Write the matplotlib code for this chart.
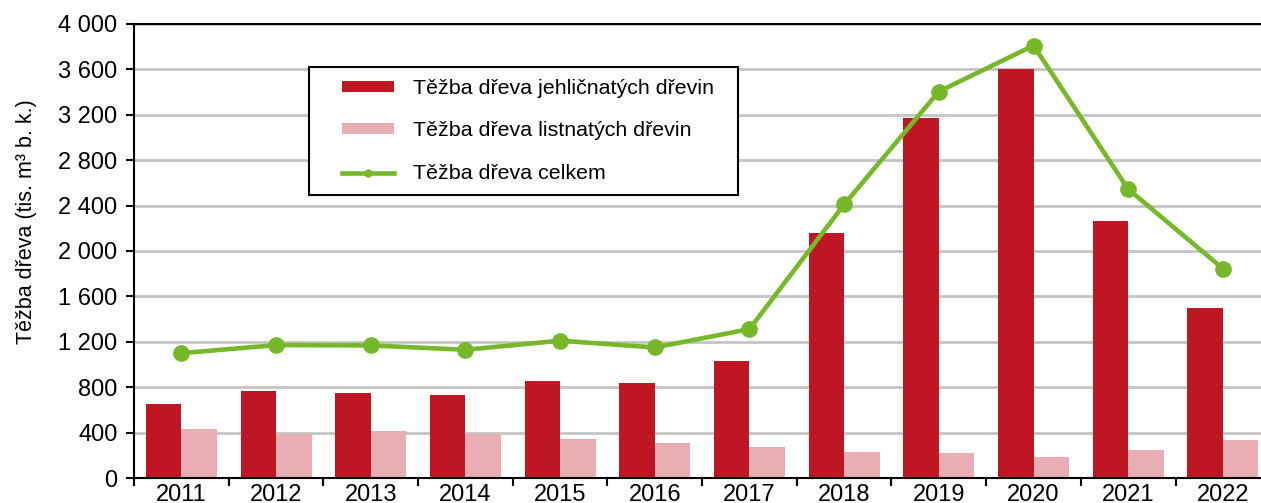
import numpy as np
import matplotlib.pyplot as plt
from matplotlib.patches import Rectangle
from matplotlib.ticker import FuncFormatter

plt.rcParams['font.family'] = ['Liberation Sans', 'DejaVu Sans']

years = ['2011', '2012', '2013', '2014', '2015', '2016',
         '2017', '2018', '2019', '2020', '2021', '2022']
jehlicnate = [649, 770, 753, 735, 856, 841, 1031, 2162, 3173, 3600, 2268, 1494]
listnate = [430, 392, 412, 391, 341, 308, 271, 233, 218, 183, 250, 339]
celkem = [1100, 1171, 1168, 1130, 1210, 1150, 1312, 2410, 3405, 3810, 2545, 1845]

dark_red = '#BE1622'
pink = '#E8AEB3'
green = '#77B82A'

W, H = 1261, 503
fig = plt.figure(figsize=(W / 100, H / 100), dpi=100)
ax = fig.add_axes([0.1063, 0.0497, 0.901, 0.9026])

x = np.arange(len(years))
w = 0.375
b1 = ax.bar(x - w / 2, jehlicnate, w, color=dark_red, zorder=2)
b2 = ax.bar(x + w / 2, listnate, w, color=pink, zorder=2)
ln, = ax.plot(x, celkem, color=green, lw=3.3, marker='o', ms=11, zorder=3)

ax.set_xlim(-0.5, 11.5)
ax.set_ylim(0, 4000)
ax.set_yticks(np.arange(0, 4001, 400))
ax.yaxis.set_major_formatter(FuncFormatter(lambda v, p: f'{int(v):,}'.replace(',', ' ')))
ax.grid(axis='y', color='#C4C4C4', lw=2, zorder=0)

# ticks between categories, labels at centres
ax.set_xticks(np.arange(-0.5, 12, 1))
ax.set_xticklabels([])
ax.set_xticks(x, minor=True)
ax.set_xticklabels(years, minor=True)
ax.tick_params(axis='x', which='major', length=6, width=1.5, direction='out')
ax.tick_params(axis='x', which='minor', length=0, labelsize=17, pad=4)
ax.tick_params(axis='y', length=6, width=1.5, labelsize=17, pad=6)

for s in ['left', 'bottom', 'top']:
    ax.spines[s].set_color('black')
    ax.spines[s].set_linewidth(1.5)
ax.spines['right'].set_visible(False)

ax.set_ylabel('Těžba dřeva (tis. m³ b. k.)', fontsize=15.5)
ax.yaxis.set_label_coords(-0.085, 0.564)

# legend frame drawn separately (wider side padding than matplotlib allows)
ax.add_patch(Rectangle((309 / W, 1 - 195 / H), 429 / W, 128 / H,
                       transform=fig.transFigure, facecolor='white',
                       edgecolor='black', lw=1.5, zorder=4, clip_on=False))
leg = ax.legend([b1, b2, ln],
                ['Těžba dřeva jehličnatých dřevin', 'Těžba dřeva listnatých dřevin',
                 'Těžba dřeva celkem'],
                loc='center left', bbox_to_anchor=(342 / W, 1 - 131 / H),
                bbox_transform=fig.transFigure, fontsize=15.4, frameon=False,
                borderpad=0, labelspacing=1.1, handlelength=2.45,
                handleheight=0.4, handletextpad=0.85, borderaxespad=0)
leg.set_zorder(5)
leg.legend_handles[2].set_markersize(5)

fig.savefig('out.png', dpi=100)
